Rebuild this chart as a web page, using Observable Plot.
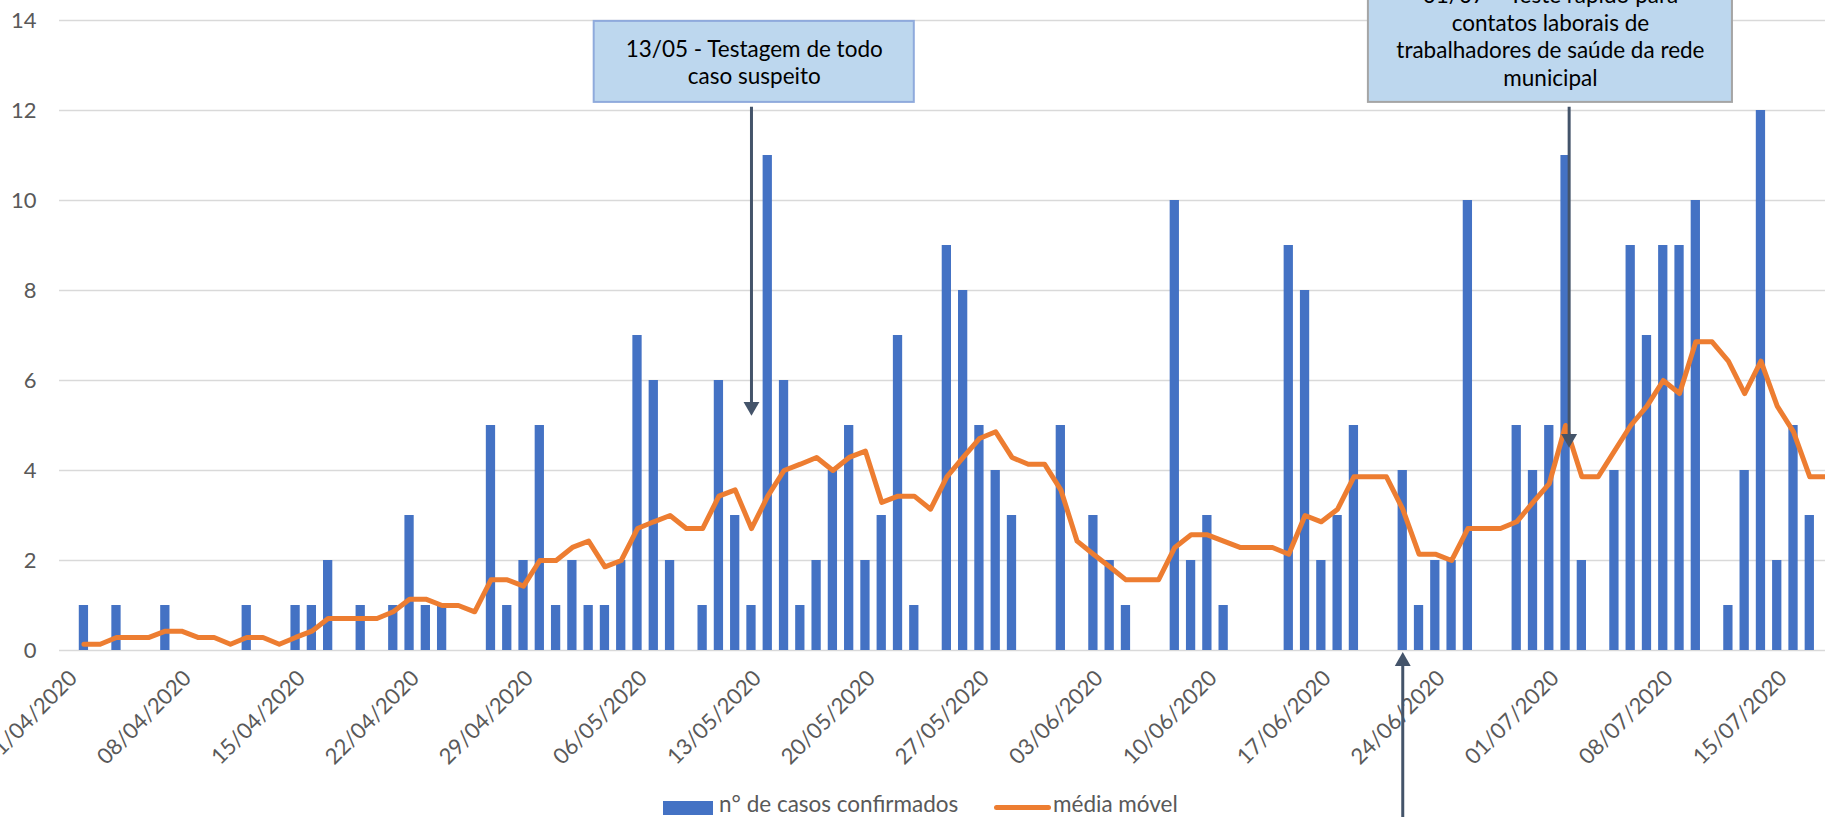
<!DOCTYPE html>
<html>
<head>
<meta charset="utf-8">
<script src="https://cdn.jsdelivr.net/npm/d3@7"></script>
<script src="https://cdn.jsdelivr.net/npm/@observablehq/plot@0.6"></script>
<style>
  html, body { margin: 0; padding: 0; background: #fff; overflow: hidden; width: 1825px; height: 817px; }
  #chart { position: absolute; left: 0; top: -40px; }
  .leg { position: absolute; font-family: Lato, sans-serif; font-size: 22.5px; line-height: 22px; color: #595959; white-space: nowrap; }
  .sw-bar { position: absolute; left: 663px; top: 801px; width: 50px; height: 14px; background: #4472C4; }
  .sw-line { position: absolute; left: 994px; top: 805px; width: 57px; height: 5px; border-radius: 3px; background: #ED7D31; }
</style>
</head>
<body>
<div id="chart"></div>
<div class="sw-bar"></div>
<div class="leg" id="leg1" style="left:719px; top:793px;"></div>
<div class="sw-line"></div>
<div class="leg" id="leg2" style="left:1053px; top:793px;"></div>
<script>
// ---- data ----
const inicio = "01/04/2020";
const casos = [
  0,1,0,1,0,0,1,0,0,0,
  0,1,0,0,1,1,2,0,1,0,
  1,3,1,1,0,0,5,1,2,5,
  1,2,1,1,2,7,6,2,0,1,
  6,3,1,11,6,1,2,4,5,2,
  3,7,1,0,9,8,5,4,3,0,
  0,5,0,3,2,1,0,0,10,2,
  3,1,0,0,0,9,8,2,3,5,
  0,0,4,1,2,2,10,0,0,5,
  4,5,11,2,0,4,9,7,9,9,
  10,0,1,4,12,2,5,3,0
];
const mediaMovel = [
  null,
  0.14,0.14,0.29,0.29,0.29,0.43,0.43,0.29,0.29,0.14,
  0.29,0.29,0.14,0.29,0.43,0.71,0.71,0.71,0.71,0.86,
  1.14,1.14,1.00,1.00,0.86,1.57,1.57,1.43,2.00,2.00,
  2.29,2.43,1.86,2.00,2.71,2.86,3.00,2.71,2.71,3.43,
  3.57,2.71,3.43,4.00,4.14,4.29,4.00,4.29,4.43,3.29,
  3.43,3.43,3.14,3.86,4.29,4.71,4.86,4.29,4.14,4.14,
  3.57,2.43,2.14,1.86,1.57,1.57,1.57,2.29,2.57,2.57,
  2.43,2.29,2.29,2.29,2.14,3.00,2.86,3.14,3.86,3.86,
  3.86,3.14,2.14,2.14,2.00,2.71,2.71,2.71,2.86,3.29,
  3.71,5.00,3.86,3.86,4.43,5.00,5.43,6.00,5.71,6.86,
  6.86,6.43,5.71,6.43,5.43,4.86,3.86,3.86
];
const tickLabels = [
  "01/04/2020","08/04/2020","15/04/2020","22/04/2020","29/04/2020","06/05/2020",
  "13/05/2020","20/05/2020","27/05/2020","03/06/2020","10/06/2020","17/06/2020",
  "24/06/2020","01/07/2020","08/07/2020","15/07/2020"
];
const yTicks = [0, 2, 4, 6, 8, 10, 12, 14];
const serieNomes = ["n° de casos confirmados", "média móvel"];
const anotacoesTexto = [
  "13/05 - Testagem de todo\ncaso suspeito",
  "01/07 – Teste rápido para\ncontatos laborais de\ntrabalhadores de saúde da rede\nmunicipal"
];
const anotacoesData = ["13/05/2020", "01/07/2020"];
const setasData = ["13/05/2020", "02/07/2020", "22/06/2020"];

// ---- build ----
const parse = d3.utcParse("%d/%m/%Y");
const fmt = d3.utcFormat("%d/%m/%Y");
const t0 = parse(inicio);
const centro = s => d3.utcHour.offset(parse(s), 12);
const desloca = (d, n) => new Date(d.getTime() + n * 864e5);

const linhas = casos.map((v, i) => {
  const ini = d3.utcDay.offset(t0, i);
  return { ini, fim: d3.utcDay.offset(t0, i + 1), centro: d3.utcHour.offset(ini, 12), casos: v, media: mediaMovel[i] };
});

// annotation layout (boxes)
const caixas = [
  { cx: desloca(centro(anotacoesData[0]), 0.17), meia: 9.83, y1: 12.18, y2: 13.98, ty: 13.08, stroke: "#8FAADC", texto: anotacoesTexto[0] },
  { cx: desloca(centro(anotacoesData[1]), 0.07), meia: 11.18, y1: 12.18, y2: 15.0, ty: 13.66, stroke: "#A5A5A5", texto: anotacoesTexto[1] }
].map(c => ({ ...c, x1: desloca(c.cx, -c.meia), x2: desloca(c.cx, c.meia) }));

const setasBaixo = [
  { x: centro(setasData[0]), de: 12.07, ate: 5.22 },
  { x: desloca(centro(setasData[1]), 0.22), de: 12.07, ate: 4.51 }
];
const setasCima = [
  { x: centro(setasData[2]), de: -4.6, ate: -0.04 }
];

const chart = Plot.plot({
  width: 1850,
  height: 857,
  marginLeft: 59,
  marginRight: 0,
  marginTop: 60,
  marginBottom: 167,
  style: { fontFamily: "Lato, sans-serif", fontSize: "22px", color: "#595959", background: "transparent", maxWidth: "none", overflow: "hidden" },
  x: { type: "utc", domain: [t0, d3.utcDay.offset(t0, 110)] },
  y: { domain: [0, 14], ticks: yTicks, tickSize: 0, tickPadding: 23, label: null },
  marks: [
    Plot.ruleY(yTicks, { stroke: "#D9D9D9", strokeWidth: 1.5 }),
    Plot.axisX({
      ticks: tickLabels.map(centro),
      tickFormat: fmt,
      tickRotate: -45,
      tickSize: 0,
      tickPadding: 24,
      dx: 6,
      label: null
    }),
    Plot.rectY(linhas, { x1: "ini", x2: "fim", y: "casos", fill: "#4472C4", insetLeft: 3.5, insetRight: 3.5 }),
    Plot.line(linhas.filter(d => d.media != null), { x: "centro", y: "media", stroke: "#ED7D31", strokeWidth: 5, strokeLinejoin: "round", strokeLinecap: "round" }),
    Plot.rect(caixas, { x1: "x1", x2: "x2", y1: "y1", y2: "y2", fill: "#BDD7EE", stroke: "stroke", strokeWidth: 2 }),
    Plot.text(caixas, { x: "cx", y: "ty", text: "texto", fill: "#000", fontSize: 22.5, lineHeight: 1.22, lineAnchor: "middle", textAnchor: "middle" }),
    Plot.ruleX(setasBaixo, { x: "x", y1: "de", y2: d => d.ate + 0.2, stroke: "#44546A", strokeWidth: 3 }),
    Plot.dot(setasBaixo, { x: "x", y: "ate", symbol: "triangle", r: 5.9, rotate: 180, dy: -9, fill: "#44546A", stroke: null }),
    Plot.ruleX(setasCima, { x: "x", y1: "de", y2: d => d.ate - 0.2, stroke: "#44546A", strokeWidth: 3 }),
    Plot.dot(setasCima, { x: "x", y: "ate", symbol: "triangle", r: 5.9, rotate: 0, dy: 9, fill: "#44546A", stroke: null })
  ]
});
chart.style.maxWidth = "none";
document.getElementById("chart").appendChild(chart);
document.getElementById("leg1").textContent = serieNomes[0];
document.getElementById("leg2").textContent = serieNomes[1];
</script>
</body>
</html>
